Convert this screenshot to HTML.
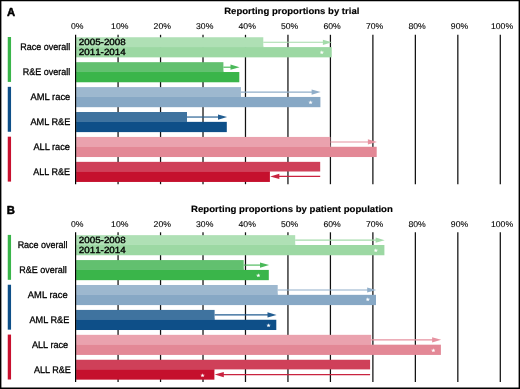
<!DOCTYPE html>
<html lang="en">
<head>
<meta charset="utf-8">
<title>Reporting proportions</title>
<style>
html,body{margin:0;padding:0;background:#fff;}
body{width:520px;height:389px;overflow:hidden;}
svg{display:block;font-family:"Liberation Sans",sans-serif;}
text{stroke-linejoin:round;text-rendering:geometricPrecision;}
.t{font-weight:bold;font-size:9px;fill:#000;stroke:#000;stroke-width:.15px;}
.l{font-size:9.6px;fill:#000;stroke:#000;stroke-width:.3px;text-anchor:end;}
.k{font-size:8.4px;fill:#000;stroke:#000;stroke-width:.1px;text-anchor:middle;}
.g{font-kerning:none;font-size:9px;fill:#000;stroke:#000;stroke-width:.35px;}
.p{font-weight:bold;font-size:11.5px;fill:#000;stroke:#000;stroke-width:.5px;}
.s{font-family:"DejaVu Sans",sans-serif;font-size:4.6px;fill:#fff;stroke:#fff;stroke-width:.2px;text-anchor:middle;}
</style>
</head>
<body>
<svg width="520" height="389" viewBox="0 0 520 389">
<rect x="0" y="0" width="520" height="389" fill="#fff"/>

<g>
<text class="p" transform="translate(7 15.8) scale(0.980 1.000)">A</text>
<text class="t" transform="translate(224.2 14.25) scale(1.060 1.000)">Reporting proportions by trial</text>
<text class="k" transform="translate(77.3 28.5) scale(1.035 1.000)">0%</text>
<text class="k" transform="translate(119.77 28.5) scale(1.035 1.000)">10%</text>
<text class="k" transform="translate(162.24 28.5) scale(1.035 1.000)">20%</text>
<text class="k" transform="translate(204.71 28.5) scale(1.035 1.000)">30%</text>
<text class="k" transform="translate(247.18 28.5) scale(1.035 1.000)">40%</text>
<text class="k" transform="translate(289.65 28.5) scale(1.035 1.000)">50%</text>
<text class="k" transform="translate(332.12 28.5) scale(1.035 1.000)">60%</text>
<text class="k" transform="translate(374.59 28.5) scale(1.035 1.000)">70%</text>
<text class="k" transform="translate(417.06 28.5) scale(1.035 1.000)">80%</text>
<text class="k" transform="translate(459.53 28.5) scale(1.035 1.000)">90%</text>
<text class="k" transform="translate(502 28.5) scale(1.035 1.000)">100%</text>
<line x1="118.07" y1="34.8" x2="118.07" y2="184.2" stroke="#111" stroke-width="1.25"/>
<line x1="160.54" y1="34.8" x2="160.54" y2="184.2" stroke="#111" stroke-width="1.25"/>
<line x1="203.01" y1="34.8" x2="203.01" y2="184.2" stroke="#111" stroke-width="1.25"/>
<line x1="245.48" y1="34.8" x2="245.48" y2="184.2" stroke="#111" stroke-width="1.25"/>
<line x1="287.95" y1="34.8" x2="287.95" y2="184.2" stroke="#111" stroke-width="1.25"/>
<line x1="330.42" y1="34.8" x2="330.42" y2="184.2" stroke="#111" stroke-width="1.25"/>
<line x1="372.89" y1="34.8" x2="372.89" y2="184.2" stroke="#111" stroke-width="1.25"/>
<line x1="415.36" y1="34.8" x2="415.36" y2="184.2" stroke="#111" stroke-width="1.25"/>
<line x1="457.83" y1="34.8" x2="457.83" y2="184.2" stroke="#111" stroke-width="1.25"/>
<line x1="500.3" y1="34.8" x2="500.3" y2="184.2" stroke="#111" stroke-width="1.25"/>
<rect x="7.75" y="37" width="3.3" height="44.92" fill="#39b54a"/>
<rect x="7.75" y="86.84" width="3.3" height="44.92" fill="#0e4f88"/>
<rect x="7.75" y="136.68" width="3.3" height="44.92" fill="#c8102e"/>
<rect x="76.1" y="45.9" width="187.2" height="2" fill="#b5e2bb"/>
<rect x="76.1" y="47.1" width="255.6" height="10.25" fill="#9cd8a3"/>
<rect x="76.1" y="37.25" width="187.2" height="9.65" fill="#afe0b5"/>
<path d="M263.3 42.28H323.9" stroke="#a4dbaa" stroke-width="1.15" fill="none"/>
<path d="M332 42.28L322.9 39.68L322.9 44.88Z" fill="#a4dbaa"/>
<text class="s" x="321.73" y="53.78">★</text>
<rect x="76.1" y="70.82" width="147.3" height="2" fill="#6fc57b"/>
<rect x="76.1" y="72.02" width="163.2" height="10.25" fill="#3ab54a"/>
<rect x="76.1" y="62.17" width="147.3" height="9.65" fill="#62c06f"/>
<path d="M223.4 67.2H231.5" stroke="#4ab959" stroke-width="1.15" fill="none"/>
<path d="M239.6 67.2L230.5 64.6L230.5 69.8Z" fill="#4ab959"/>
<rect x="76.1" y="95.74" width="164.8" height="2" fill="#a5bed3"/>
<rect x="76.1" y="96.94" width="244.3" height="10.25" fill="#87a8c5"/>
<rect x="76.1" y="87.09" width="164.8" height="9.65" fill="#9db8cf"/>
<path d="M240.9 92.12H312.6" stroke="#90aec9" stroke-width="1.15" fill="none"/>
<path d="M320.7 92.12L311.6 89.52L311.6 94.72Z" fill="#90aec9"/>
<text class="s" x="310.6" y="103.57">★</text>
<rect x="76.1" y="120.66" width="110.9" height="2" fill="#4e7ea7"/>
<rect x="76.1" y="121.86" width="150.7" height="10.25" fill="#0e4f88"/>
<rect x="76.1" y="112.01" width="110.9" height="9.65" fill="#3f739f"/>
<path d="M187 117.04H219" stroke="#225d91" stroke-width="1.15" fill="none"/>
<path d="M227.1 117.04L218 114.44L218 119.64Z" fill="#225d91"/>
<rect x="76.1" y="145.58" width="254.3" height="2" fill="#eca9b4"/>
<rect x="76.1" y="146.78" width="300.6" height="10.25" fill="#e38896"/>
<rect x="76.1" y="136.93" width="254.3" height="9.65" fill="#eaa2ae"/>
<path d="M330.4 141.95H368.9" stroke="#e692a0" stroke-width="1.15" fill="none"/>
<path d="M377 141.95L367.9 139.35L367.9 144.55Z" fill="#e692a0"/>
<rect x="76.1" y="170.5" width="193.8" height="2" fill="#d34f66"/>
<rect x="76.1" y="171.7" width="193.8" height="10.25" fill="#c5102d"/>
<rect x="76.1" y="161.85" width="244.1" height="9.65" fill="#cf4059"/>
<path d="M320.2 176.43H278.3" stroke="#c9233f" stroke-width="1.15" fill="none"/>
<path d="M270.2 176.43L279.3 173.83L279.3 179.03Z" fill="#c9233f"/>
<line x1="75.6" y1="34.8" x2="75.6" y2="184.2" stroke="#000" stroke-width="1.2"/>
<text class="l" transform="translate(70.3 50.2) scale(0.937 1.000)">Race overall</text>
<text class="l" transform="translate(70.3 75.12) scale(0.937 1.000)">R&amp;E overall</text>
<text class="l" transform="translate(70.3 100.04) scale(0.976 1.000)">AML race</text>
<text class="l" transform="translate(70.3 124.96) scale(0.955 1.000)">AML R&amp;E</text>
<text class="l" transform="translate(70 149.88) scale(0.962 1.000)">ALL race</text>
<text class="l" transform="translate(69.9 174.8) scale(0.938 1.000)">ALL R&amp;E</text>
<text class="g" transform="translate(78.8 45.45) scale(1.090 1.000)">2005-2008</text>
<text class="g" transform="translate(78.8 55.25) scale(1.090 1.000)">2011-2014</text>
</g>
<g>
<text class="p" transform="translate(6.7 213.8) scale(0.980 1.000)">B</text>
<text class="t" transform="translate(191 212.45) scale(1.068 1.000)">Reporting proportions by patient population</text>
<text class="k" transform="translate(77.3 226.7) scale(1.035 1.000)">0%</text>
<text class="k" transform="translate(119.77 226.7) scale(1.035 1.000)">10%</text>
<text class="k" transform="translate(162.24 226.7) scale(1.035 1.000)">20%</text>
<text class="k" transform="translate(204.71 226.7) scale(1.035 1.000)">30%</text>
<text class="k" transform="translate(247.18 226.7) scale(1.035 1.000)">40%</text>
<text class="k" transform="translate(289.65 226.7) scale(1.035 1.000)">50%</text>
<text class="k" transform="translate(332.12 226.7) scale(1.035 1.000)">60%</text>
<text class="k" transform="translate(374.59 226.7) scale(1.035 1.000)">70%</text>
<text class="k" transform="translate(417.06 226.7) scale(1.035 1.000)">80%</text>
<text class="k" transform="translate(459.53 226.7) scale(1.035 1.000)">90%</text>
<text class="k" transform="translate(502 226.7) scale(1.035 1.000)">100%</text>
<line x1="118.07" y1="232.3" x2="118.07" y2="382" stroke="#111" stroke-width="1.25"/>
<line x1="160.54" y1="232.3" x2="160.54" y2="382" stroke="#111" stroke-width="1.25"/>
<line x1="203.01" y1="232.3" x2="203.01" y2="382" stroke="#111" stroke-width="1.25"/>
<line x1="245.48" y1="232.3" x2="245.48" y2="382" stroke="#111" stroke-width="1.25"/>
<line x1="287.95" y1="232.3" x2="287.95" y2="382" stroke="#111" stroke-width="1.25"/>
<line x1="330.42" y1="232.3" x2="330.42" y2="382" stroke="#111" stroke-width="1.25"/>
<line x1="372.89" y1="232.3" x2="372.89" y2="382" stroke="#111" stroke-width="1.25"/>
<line x1="415.36" y1="232.3" x2="415.36" y2="382" stroke="#111" stroke-width="1.25"/>
<line x1="457.83" y1="232.3" x2="457.83" y2="382" stroke="#111" stroke-width="1.25"/>
<line x1="500.3" y1="232.3" x2="500.3" y2="382" stroke="#111" stroke-width="1.25"/>
<rect x="7.75" y="234.9" width="3.3" height="44.92" fill="#39b54a"/>
<rect x="7.75" y="284.74" width="3.3" height="44.92" fill="#0e4f88"/>
<rect x="7.75" y="334.58" width="3.3" height="44.92" fill="#c8102e"/>
<rect x="76.1" y="243.8" width="219.1" height="2" fill="#b5e2bb"/>
<rect x="76.1" y="245" width="308.3" height="10.25" fill="#9cd8a3"/>
<rect x="76.1" y="235.15" width="219.1" height="9.65" fill="#afe0b5"/>
<path d="M295.2 240.17H376.6" stroke="#a4dbaa" stroke-width="1.15" fill="none"/>
<path d="M384.7 240.17L375.6 237.57L375.6 242.77Z" fill="#a4dbaa"/>
<text class="s" x="375.73" y="252.22">★</text>
<rect x="76.1" y="268.72" width="167.6" height="2" fill="#6fc57b"/>
<rect x="76.1" y="269.92" width="192.7" height="10.25" fill="#3ab54a"/>
<rect x="76.1" y="260.07" width="167.6" height="9.65" fill="#62c06f"/>
<path d="M243.7 265.09H261" stroke="#4ab959" stroke-width="1.15" fill="none"/>
<path d="M269.1 265.09L260 262.49L260 267.69Z" fill="#4ab959"/>
<text class="s" x="258.41" y="276.57">★</text>
<rect x="76.1" y="293.64" width="201.6" height="2" fill="#a5bed3"/>
<rect x="76.1" y="294.84" width="299.9" height="10.25" fill="#87a8c5"/>
<rect x="76.1" y="284.99" width="201.6" height="9.65" fill="#9db8cf"/>
<path d="M277.7 290.01H368.2" stroke="#90aec9" stroke-width="1.15" fill="none"/>
<path d="M376.3 290.01L367.2 287.41L367.2 292.62Z" fill="#90aec9"/>
<text class="s" x="367.7" y="301.22">★</text>
<rect x="76.1" y="318.56" width="138.5" height="2" fill="#4e7ea7"/>
<rect x="76.1" y="319.76" width="200.2" height="10.25" fill="#0e4f88"/>
<rect x="76.1" y="309.91" width="138.5" height="9.65" fill="#3f739f"/>
<path d="M214.6 314.94H268.5" stroke="#225d91" stroke-width="1.15" fill="none"/>
<path d="M276.6 314.94L267.5 312.33L267.5 317.54Z" fill="#225d91"/>
<text class="s" x="268.5" y="327.12">★</text>
<rect x="76.1" y="343.48" width="295.1" height="2" fill="#eca9b4"/>
<rect x="76.1" y="344.68" width="364.8" height="10.25" fill="#e38896"/>
<rect x="76.1" y="334.83" width="295.1" height="9.65" fill="#eaa2ae"/>
<path d="M371.2 339.86H433.1" stroke="#e692a0" stroke-width="1.15" fill="none"/>
<path d="M441.2 339.86L432.1 337.25L432.1 342.46Z" fill="#e692a0"/>
<text class="s" x="433.27" y="351.97">★</text>
<rect x="76.1" y="368.4" width="138.3" height="2" fill="#d34f66"/>
<rect x="76.1" y="369.6" width="138.3" height="10.05" fill="#c5102d"/>
<rect x="76.1" y="359.75" width="294" height="9.65" fill="#cf4059"/>
<path d="M370.1 374.62H222.8" stroke="#c9233f" stroke-width="1.15" fill="none"/>
<path d="M214.7 374.62L223.8 372.02L223.8 377.23Z" fill="#c9233f"/>
<text class="s" x="202.5" y="376.87">★</text>
<line x1="75.6" y1="232.3" x2="75.6" y2="382" stroke="#000" stroke-width="1.2"/>
<text class="l" transform="translate(67.6 248.1) scale(0.937 1.000)">Race overall</text>
<text class="l" transform="translate(66.7 273.02) scale(0.937 1.000)">R&amp;E overall</text>
<text class="l" transform="translate(67.6 297.94) scale(0.976 1.000)">AML race</text>
<text class="l" transform="translate(69.3 322.86) scale(0.955 1.000)">AML R&amp;E</text>
<text class="l" transform="translate(68.2 347.78) scale(0.953 1.000)">ALL race</text>
<text class="l" transform="translate(70.9 372.7) scale(0.945 1.000)">ALL R&amp;E</text>
<text class="g" transform="translate(78.8 243.35) scale(1.090 1.000)">2005-2008</text>
<text class="g" transform="translate(78.8 253.15) scale(1.090 1.000)">2011-2014</text>
</g>
<path d="M0 0H520V389H0Z M1.4 1.2V387.6H518.6V1.2Z" fill="#000" fill-rule="evenodd"/>
</svg>
</body>
</html>
